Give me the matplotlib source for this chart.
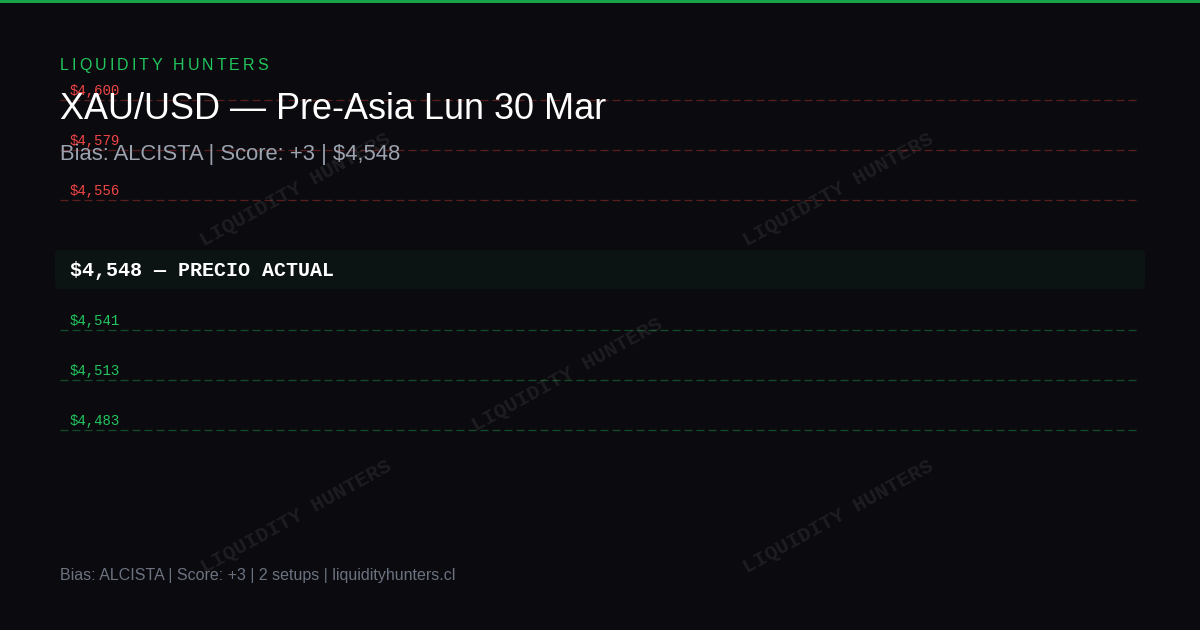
import matplotlib
matplotlib.use("Agg")
import matplotlib.pyplot as plt
from matplotlib.patches import FancyBboxPatch, Rectangle

# chart data
brand = "LIQUIDITY HUNTERS"
title = "XAU/USD \u2014 Pre-Asia Lun 30 Mar"
subtitle = "Bias: ALCISTA | Score: +3 | $4,548"
footer = "Bias: ALCISTA | Score: +3 | 2 setups | liquidityhunters.cl"
resistances = [4600, 4579, 4556]
supports = [4541, 4513, 4483]
current_price = 4548
current_label = "PRECIO ACTUAL"

BG = "#0b0b0f"
GREEN = "#22c55e"
RED = "#ef4444"
PX = 0.72  # points per pixel at dpi 100

plt.rcParams['lines.scale_dashes'] = False

fig = plt.figure(figsize=(12, 6.3), dpi=100, facecolor=BG)
ax = fig.add_axes([0, 0, 1, 1])
ax.set_xlim(0, 1200)
ax.set_ylim(630, 0)
ax.set_facecolor(BG)
ax.axis('off')

# top accent bar
ax.add_patch(Rectangle((0, 0), 1200, 3, color="#16a34a", lw=0))

# watermarks
for wx, wy in [(295, 190), (838, 190), (567, 375), (296, 517), (838, 517)]:
    ax.text(wx, wy, brand, color="white", alpha=0.08, rotation=29,
            fontsize=21 * PX, family="Liberation Mono", weight="bold",
            ha="center", va="center", rotation_mode="anchor")

def fmt(p):
    return f"${p:,}"

# level lines
row_y = 100
for price in resistances:
    ax.plot([60, 1136], [row_y, row_y], color=RED, alpha=0.35, lw=1.3 * PX,
            dashes=(8 * PX, 4 * PX))
    ax.text(70, row_y - 5, fmt(price), color=RED, fontsize=14 * PX,
            family="Liberation Mono", va="baseline", ha="left")
    row_y += 50

# current price box
box_top = row_y
ax.add_patch(FancyBboxPatch((55, box_top), 1090, 39,
                            boxstyle="round,pad=0,rounding_size=5",
                            fc=GREEN, alpha=0.05, lw=0))
ax.text(70, box_top + 26, f"{fmt(current_price)} \u2014 {current_label}",
        color="white", fontsize=20 * PX, family="Liberation Mono",
        weight="bold", va="baseline", ha="left")
row_y = box_top + 80

for price in supports:
    ax.plot([60, 1136], [row_y, row_y], color=GREEN, alpha=0.35, lw=1.3 * PX,
            dashes=(8 * PX, 4 * PX))
    ax.text(70, row_y - 5, fmt(price), color=GREEN, fontsize=14 * PX,
            family="Liberation Mono", va="baseline", ha="left")
    row_y += 50

# header texts (brand with letter spacing)
renderer = fig.canvas.get_renderer()
x = 60
for ch in brand:
    t = ax.text(x, 70, ch, color=GREEN, fontsize=16 * PX,
                family="Liberation Sans", va="baseline", ha="left")
    w = t.get_window_extent(renderer).width if ch != " " else 16 * 0.278
    x += w + 3

ax.text(60, 119, title, color="white", fontsize=36 * PX,
        family="Liberation Sans", va="baseline", ha="left")
ax.text(60, 160, subtitle, color="#9ca3af", fontsize=22 * PX,
        family="Liberation Sans", va="baseline", ha="left")
ax.text(60, 580, footer, color="#6b7280", fontsize=16 * PX,
        family="Liberation Sans", va="baseline", ha="left")

fig.savefig("out.png", dpi=100, facecolor=BG)
